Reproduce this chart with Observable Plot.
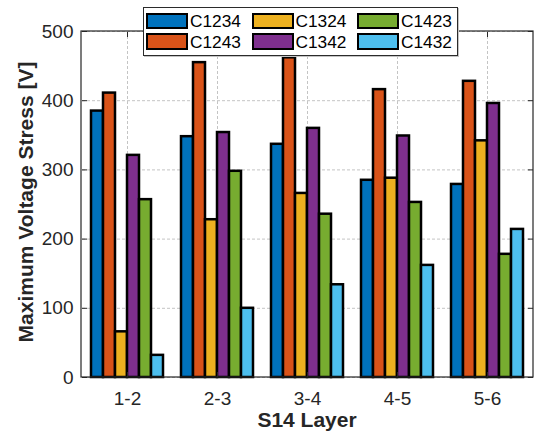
<!DOCTYPE html>
<html><head><meta charset="utf-8">
<script src="https://cdn.jsdelivr.net/npm/d3@7"></script>
<script src="https://cdn.jsdelivr.net/npm/@observablehq/plot@0.6"></script>
<style>
body{margin:0;background:#fff;}
#wrap{position:relative;width:534px;height:439px;font-family:'Liberation Sans',Arial,sans-serif;}
#legend{position:absolute;left:143px;top:7px;width:313px;height:47px;border:1px solid #2b2b2b;background:#fff;box-shadow:1px 1px 0 #c4c4c4;}
.item{position:absolute;display:flex;align-items:center;font-size:17.3px;color:#000;line-height:18px;}
.sw{width:38px;height:12.5px;border:2.5px solid #000;margin-right:2px;}
</style></head><body><div id="wrap"></div>
<script>
const categories = ["1-2", "2-3", "3-4", "4-5", "5-6"];
const series = ["C1234", "C1243", "C1324", "C1342", "C1423", "C1432"];
const colors = ["#0072BD", "#D95319", "#EDB120", "#7E2F8E", "#77AC30", "#4DBEEE"];
const C1234 = [385, 348, 337, 285, 279];
const C1243 = [411, 455, 462, 416, 428];
const C1324 = [66, 228, 266, 288, 342];
const C1342 = [321, 354, 360, 349, 396];
const C1423 = [257, 298, 236, 253, 178];
const C1432 = [32, 100, 134, 162, 214];
const yTicks = [0, 100, 200, 300, 400, 500];
const xLabel = "S14 Layer";
const yLabel = "Maximum Voltage Stress [V]";

const valuesBySeries = {C1234, C1243, C1324, C1342, C1423, C1432};
const data = [];
categories.forEach((c, i) => series.forEach(s => data.push({cat: c, series: s, value: valuesBySeries[s][i]})));

const ink = "#262626";
const fs = 19;
const plot = Plot.plot({
  width: 534, height: 439,
  marginLeft: 81, marginRight: 1, marginTop: 31, marginBottom: 62,
  style: {fontFamily: "'Liberation Sans', Arial, sans-serif", fontSize: fs + "px", color: ink, background: "#fff"},
  fx: {domain: categories, padding: 0, label: null},
  x: {domain: series, paddingInner: 0, paddingOuter: 0.75, axis: null},
  y: {domain: [0, 500], label: null},
  color: {domain: series, range: colors},
  marks: [
    Plot.gridY(yTicks, {stroke: "#c4c4c4", strokeOpacity: 1, strokeDasharray: "3,2"}),
    Plot.gridFx({stroke: "#c4c4c4", strokeOpacity: 1, strokeDasharray: "3,2"}),
    Plot.barY(data, {fx: "cat", x: "series", y: "value", fill: "series", stroke: "#000", strokeWidth: 2.5}),
    Plot.axisY(yTicks, {anchor: "left", tickSize: 0, tickPadding: 9, fill: ink, fontSize: fs}),
    Plot.axisY(yTicks, {anchor: "left", tickSize: -5, tickFormat: () => "", stroke: ink}),
    Plot.axisY(yTicks, {anchor: "right", tickSize: -5, tickFormat: () => "", stroke: ink}),
    Plot.axisFx({anchor: "bottom", tickSize: 0, tickPadding: 14, fill: ink, label: null, fontSize: fs}),
    Plot.axisFx({anchor: "bottom", tickSize: -5, tickFormat: () => "", stroke: ink, label: null}),
    Plot.axisFx({anchor: "top", tickSize: -5, tickFormat: () => "", stroke: ink, label: null})
  ]
});

const wrap = document.getElementById("wrap");
wrap.appendChild(plot);

// frame box and axis titles, placed from the plot's own scales
const svg = d3.select(plot);
const fxr = plot.scale("fx").range;
const yr = plot.scale("y").range;
const boxL = Math.min(...fxr), boxR = Math.max(...fxr);
const boxT = Math.min(...yr), boxB = Math.max(...yr);
svg.append("rect").attr("x", boxL).attr("y", boxT).attr("width", boxR - boxL).attr("height", boxB - boxT)
  .attr("fill", "none").attr("stroke", ink).attr("stroke-width", 1.2);
svg.append("text").attr("x", (boxL + boxR) / 2).attr("y", 427).attr("text-anchor", "middle")
  .attr("font-weight", "bold").attr("font-size", "21px").attr("fill", ink).text(xLabel);
svg.append("text").attr("transform", `translate(33,${(boxT + boxB) / 2 - 2}) rotate(-90)`).attr("text-anchor", "middle")
  .attr("font-weight", "bold").attr("font-size", "21px").attr("fill", ink).text(yLabel);

// legend (column-major, 2 rows x 3 columns)
const legend = document.createElement("div");
legend.id = "legend";
series.forEach((s, i) => {
  const col = Math.floor(i / 2), row = i % 2;
  const item = document.createElement("div");
  item.className = "item";
  item.style.left = (2 + col * 105.5) + "px";
  item.style.top = (4 + row * 20.5) + "px";
  const sw = document.createElement("div");
  sw.className = "sw";
  sw.style.background = colors[i];
  item.appendChild(sw);
  const t = document.createElement("span");
  t.textContent = s;
  item.appendChild(t);
  legend.appendChild(item);
});
wrap.appendChild(legend);
</script>
</body></html>
